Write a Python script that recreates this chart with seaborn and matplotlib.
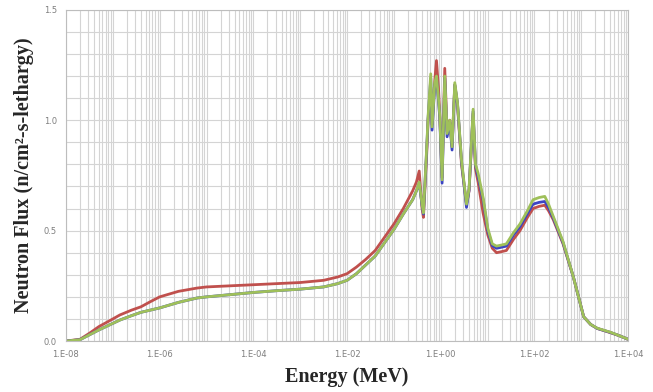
import numpy as np
import pandas as pd
import matplotlib
matplotlib.use("Agg")
import matplotlib.pyplot as plt
import matplotlib.ticker as mticker
import seaborn as sns

# log10(Energy in MeV)
log_energy = [-8.0, -7.7, -7.5, -7.3, -7.0, -6.85, -6.6, -6.4, -6.2, -6.0, -5.6, -5.2, -5.0,
              -4.5, -4.0, -3.5, -3.0, -2.5, -2.2, -2.0, -1.8, -1.6, -1.4, -1.2, -1.0, -0.8,
              -0.6, -0.52, -0.46, -0.40, -0.37, -0.30, -0.27, -0.214, -0.186, -0.128, -0.092,
              -0.05, -0.021, 0.028, 0.085, 0.135, 0.192, 0.241, 0.299, 0.357, 0.442, 0.549,
              0.604, 0.690, 0.741, 0.796, 0.903, 1.004, 1.10, 1.19, 1.30, 1.40, 1.55, 1.69,
              1.85, 1.97, 2.10, 2.22, 2.30, 2.40, 2.61, 2.83, 3.05, 3.20, 3.34, 3.62, 3.80, 4.00]

flux_red = [0.000, 0.008, 0.035, 0.065, 0.100, 0.118, 0.140, 0.155, 0.178, 0.200, 0.225, 0.240, 0.245,
            0.250, 0.255, 0.260, 0.265, 0.275, 0.290, 0.305, 0.335, 0.370, 0.410, 0.470, 0.530, 0.600,
            0.680, 0.720, 0.770, 0.600, 0.560, 0.850, 1.000, 1.150, 0.980, 1.180, 1.270,
            1.150, 1.020, 0.740, 1.235, 0.950, 1.000, 0.880, 1.160, 1.070, 0.800, 0.620,
            0.680, 1.030, 0.780, 0.720, 0.580, 0.480, 0.420, 0.400, 0.405, 0.410, 0.460, 0.500,
            0.560, 0.600, 0.610, 0.615, 0.590, 0.550, 0.440, 0.290, 0.110, 0.075, 0.057, 0.038, 0.025, 0.008]

flux_blue = [0.000, 0.006, 0.028, 0.050, 0.080, 0.095, 0.115, 0.130, 0.140, 0.150, 0.175, 0.195, 0.200,
             0.210, 0.220, 0.228, 0.235, 0.245, 0.260, 0.275, 0.305, 0.345, 0.385, 0.445, 0.505, 0.575,
             0.640, 0.680, 0.715, 0.615, 0.575, 0.870, 1.010, 1.190, 0.955, 1.160, 1.190,
             1.090, 1.010, 0.715, 1.190, 0.925, 0.990, 0.865, 1.160, 1.075, 0.815, 0.605,
             0.685, 1.040, 0.795, 0.745, 0.640, 0.500, 0.432, 0.420, 0.425, 0.430, 0.480, 0.518,
             0.578, 0.620, 0.628, 0.632, 0.605, 0.558, 0.445, 0.290, 0.110, 0.075, 0.057, 0.039, 0.025, 0.008]

flux_green = [0.000, 0.006, 0.028, 0.050, 0.080, 0.095, 0.115, 0.130, 0.140, 0.150, 0.175, 0.195, 0.200,
              0.210, 0.220, 0.228, 0.235, 0.245, 0.260, 0.275, 0.305, 0.345, 0.385, 0.445, 0.505, 0.575,
              0.640, 0.680, 0.720, 0.620, 0.580, 0.880, 1.020, 1.210, 0.970, 1.170, 1.200,
              1.100, 1.020, 0.730, 1.200, 0.940, 1.000, 0.880, 1.170, 1.080, 0.820, 0.620,
              0.690, 1.050, 0.800, 0.760, 0.650, 0.510, 0.440, 0.430, 0.435, 0.440, 0.490, 0.530,
              0.590, 0.640, 0.650, 0.655, 0.620, 0.565, 0.450, 0.290, 0.110, 0.075, 0.058, 0.040, 0.025, 0.008]

series_names = ["Case A", "Case B", "Case C"]
series_colors = ["#c0504d", "#3b44c4", "#9fc05a"]

x_tick_exponents = [-8, -6, -4, -2, 0, 2, 4]
y_ticks = [0.0, 0.5, 1.0, 1.5]

energy = [10.0 ** e for e in log_energy]
frames = []
for name, vals in zip(series_names, [flux_red, flux_blue, flux_green]):
    frames.append(pd.DataFrame({"energy": energy, "flux": vals, "series": name}))
df = pd.concat(frames, ignore_index=True)

sns.set_style("white")
fig = plt.figure(figsize=(6.53, 3.92), dpi=100)
ax = fig.add_axes([0.101, 0.130, 0.861, 0.845])

sns.lineplot(data=df, x="energy", y="flux", hue="series", palette=series_colors,
             hue_order=series_names, linewidth=2.0, ax=ax, legend=False, sort=False)

ax.set_xscale("log")
ax.set_xlim(1e-8, 1e4)
ax.set_ylim(0, 1.5)

ax.xaxis.set_major_locator(mticker.FixedLocator([10.0 ** e for e in range(-8, 5)]))
ax.xaxis.set_minor_locator(mticker.LogLocator(base=10, subs=np.arange(2, 10), numticks=100))


def fmt(v, pos):
    e = int(round(np.log10(v)))
    return f"1.E{e:+03d}" if e in x_tick_exponents else ""


ax.xaxis.set_major_formatter(mticker.FuncFormatter(fmt))
ax.xaxis.set_minor_formatter(mticker.NullFormatter())
ax.set_yticks(y_ticks)
ax.yaxis.set_major_formatter(mticker.FormatStrFormatter("%.1f"))
ax.yaxis.set_minor_locator(mticker.MultipleLocator(0.1))

ax.grid(True, which="both", axis="both", color="#d4d4d4", linewidth=0.8)
ax.set_axisbelow(True)
for s in ax.spines.values():
    s.set_color("#bdbdbd")
    s.set_linewidth(0.8)

ax.tick_params(axis="both", which="major", labelsize=6, colors="#7f7f7f", length=3, width=0.6)
ax.tick_params(axis="x", which="minor", length=0)
ax.tick_params(axis="y", which="minor", length=0)

ax.set_xlabel("Energy (MeV)", fontsize=14.5, fontweight="bold", family="Liberation Serif", labelpad=6)
ax.set_ylabel("Neutron Flux (n/cm²-s-lethargy)", fontsize=14.5, fontweight="bold",
              family="Liberation Serif", labelpad=7)

fig.savefig("out.png", dpi=100)
